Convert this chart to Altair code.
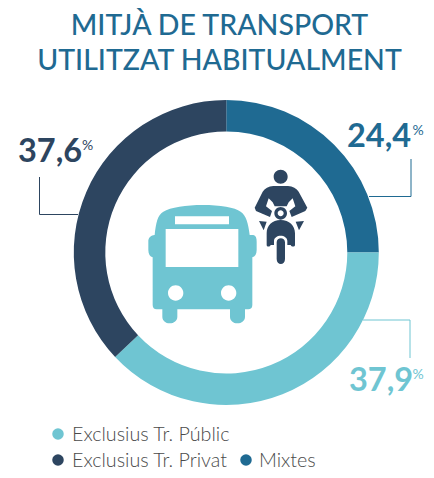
import altair as alt
import pandas as pd

# ---- data ----
title_lines = ["MITJÀ DE TRANSPORT", "UTILITZAT HABITUALMENT"]
categories = ["Mixtes", "Exclusius Tr. Públic", "Exclusius Tr. Privat"]
printed_pct = [24.4, 37.9, 37.6]
drawn_share = [25.0, 38.0, 37.0]   # the ring's sweeps
colors = ["#1f6a92", "#6fc5d2", "#2d4560"]
order = [0, 1, 2]

TOP = 85
OX, OY = 8, 8
W, H = 418, 462 - TOP
def X(px): return px - OX
def Y(py): return py - OY - TOP
def V(v): return alt.value(v)

def circle(cx, cy, r, ccw=False):
    k = 0.5523 * r
    if not ccw:
        return (f"M{cx-r} {cy}C{cx-r} {cy-k} {cx-k} {cy-r} {cx} {cy-r}C{cx+k} {cy-r} {cx+r} {cy-k} {cx+r} {cy}"
                f"C{cx+r} {cy+k} {cx+k} {cy+r} {cx} {cy+r}C{cx-k} {cy+r} {cx-r} {cy+k} {cx-r} {cy}Z")
    return (f"M{cx-r} {cy}C{cx-r} {cy+k} {cx-k} {cy+r} {cx} {cy+r}C{cx+k} {cy+r} {cx+r} {cy+k} {cx+r} {cy}"
            f"C{cx+r} {cy-k} {cx+k} {cy-r} {cx} {cy-r}C{cx-k} {cy-r} {cx-r} {cy-k} {cx-r} {cy}Z")

# glyphs drawn at 1/3 scale from their own origin
BUS = ("M248 105C300 105 345 112 362 125C378 135 385 160 389 195L400 195C408 197 410 205 410 215L410 240"
       "C410 252 405 260 397 262L397 405C397 414 392 418 385 418L375 418L375 440C375 452 365 460 352 460"
       "C340 460 330 452 330 440L330 418L172 418L172 440C172 452 162 460 149 460C137 460 127 452 127 440"
       "L127 418L110 418C102 418 98 413 98 405L98 262C90 260 85 252 85 240L85 215C85 205 90 197 104 195"
       "C108 160 112 135 130 125C150 112 200 105 248 105Z"
       "M165 139L165 163L327 163L327 139Z"
       "M137 177L137 291L355 291L355 177Z"
       + circle(167, 369, 23, True) + circle(326, 369, 23, True))

MOTO = (circle(92, 35, 21)
        # rider with arms
        + "M70 63L114 63C128 64 140 70 146 80L172 128L166 138L125 156L118 138L136 124L128 100L116 112L110 124"
          "L74 124L68 112L56 100L48 124L66 138L60 156L18 138L14 128L38 80C44 70 56 64 70 63Z"
        # steering ring
        + circle(92, 145, 19) + circle(92, 145, 9, True)
        # fairing, notched round the wheel
        + "M92 165C118 165 135 182 135 205L135 240C135 246 124 246 122 240L112 240L112 228C112 218 102 212 92 212"
          "C82 212 72 218 72 228L72 240L62 240C60 246 50 246 50 240L50 205C50 182 66 165 92 165Z"
        # wheel
        + "M80 232C80 216 105 216 105 232L105 282C105 302 80 302 80 282Z"
        # mirrors
        + "M27 168L50 170L41 196Z M162 168L137 170L147 196Z")

def glyph(path, color, ox, oy):
    return (alt.Chart(pd.DataFrame({"g": [0]}))
            .mark_point(shape=path, filled=True, opacity=1, size=4 / 9, color=color, strokeWidth=0)
            .encode(x=V(X(ox)), y=V(Y(oy))))

def label(text, px, py, size, color, weight=400, font="Lato", align="left"):
    return (alt.Chart(pd.DataFrame({"t": [text]}))
            .mark_text(font=font, fontSize=size, fontWeight=weight, color=color, align=align, baseline="alphabetic")
            .encode(text="t:N", x=V(X(px)), y=V(Y(py))))

def leader(x1, y1, x2, y2, color):
    return (alt.Chart(pd.DataFrame({"g": [0]}))
            .mark_rule(color=color, strokeWidth=1)
            .encode(x=V(X(x1)), x2=V(X(x2)), y=V(Y(y1)), y2=V(Y(y2))))

def pct(v):
    return f"{v:.1f}".replace(".", ",")

ring_df = pd.DataFrame({"category": categories, "share": drawn_share, "rank": order})
ring = (alt.Chart(ring_df)
        .mark_arc(innerRadius=121, outerRadius=152.5)
        .encode(theta=alt.Theta("share:Q", stack=True),
                color=alt.Color("category:N", scale=alt.Scale(domain=categories, range=colors), legend=None),
                order=alt.Order("rank:Q"),
                x=V(X(226.3)), y=V(Y(252.5))))

layers = [ring,
          glyph(BUS, colors[1], 120, 170),
          glyph(MOTO, colors[2], 250, 165)]

# leaders
layers += [leader(411, 159, 411, 196.5, colors[0]), leader(369, 196.5, 411, 196.5, colors[0]),
           leader(39.5, 177, 39.5, 214.5, colors[2]), leader(39.5, 214.5, 78, 214.5, colors[2]),
           leader(410, 320, 410, 358, colors[1]), leader(363, 320, 410, 320, colors[1])]

# value labels
layers += [label(pct(printed_pct[0]), 347, 147, 32.5, colors[0], 700), label("%", 412.5, 135, 14, colors[0]),
           label(pct(printed_pct[2]), 18, 162, 32.5, colors[2], 700), label("%", 82, 150, 14, colors[2]),
           label(pct(printed_pct[1]), 349, 391, 32.5, colors[1], 700), label("%", 412.5, 379, 14, colors[1])]

# legend
for cat, lx, ly, tx, by in [(categories[1], 58, 434, 72, 441),
                            (categories[2], 58, 460, 72, 467),
                            (categories[0], 246, 460, 259, 467)]:
    col = colors[categories.index(cat)]
    layers.append(alt.Chart(pd.DataFrame({"g": [0]}))
                  .mark_point(shape="circle", filled=True, opacity=1, size=133, color=col, strokeWidth=0)
                  .encode(x=V(X(lx)), y=V(Y(ly))))
    layers.append(label(cat, tx, by, 19.7, "#4a4a4a", 300))

chart = (alt.layer(*layers)
         .properties(width=W, height=H,
                     title=alt.TitleParams(text=title_lines, font="Lato", fontSize=28.5, fontWeight=500,
                                           lineHeight=35, color=colors[0], anchor="middle",
                                           dx=2.5, offset=18),
                     autosize=alt.AutoSizeParams(type="none"),
                     padding={"left": 0, "top": TOP, "right": 0, "bottom": 0})
         .configure_view(stroke=None))

chart.save("out.html", embed_options={"renderer": "svg", "actions": False})
